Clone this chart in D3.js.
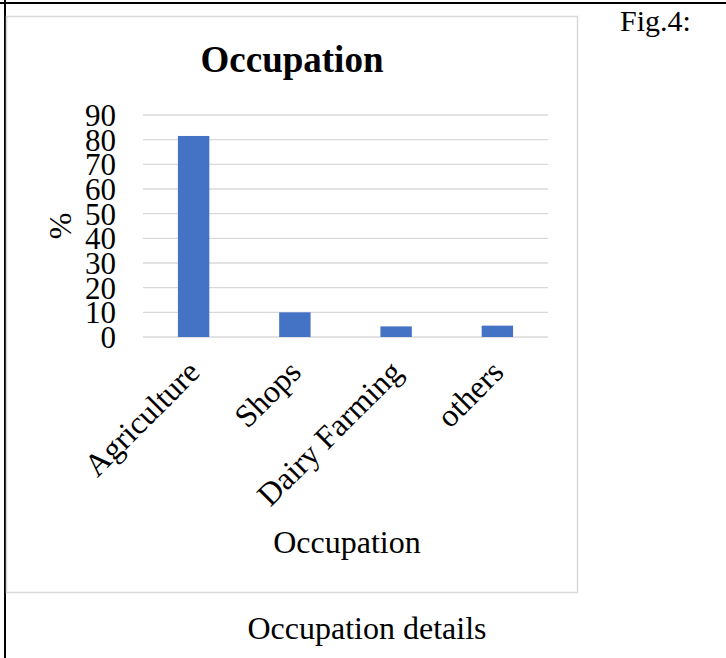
<!DOCTYPE html>
<html>
<head>
<meta charset="utf-8">
<script src="https://cdn.jsdelivr.net/npm/d3@7"></script>
<style>
  body { margin: 0; background: #fff; }
  text { font-family: "Liberation Serif", "Times New Roman", serif; fill: #000; }
</style>
</head>
<body>
<div id="chart"></div>
<script>
// chart data
var categories = ["Agriculture", "Shops", "Dairy Farming", "others"];
var percents = [81.5, 10, 4.3, 4.6];
var yTicks = [0, 10, 20, 30, 40, 50, 60, 70, 80, 90];

var svgWidth = 726;
var svgHeight = 658;

// plot area inside the chart frame
var plot = { left: 143, right: 548, top: 115, bottom: 337 };

var svg = d3.select("#chart")
  .append("svg")
  .attr("width", svgWidth)
  .attr("height", svgHeight);

// document table lines
svg.append("line")
  .attr("x1", 0).attr("x2", svgWidth)
  .attr("y1", 3).attr("y2", 3)
  .attr("stroke", "#000").attr("stroke-width", 2);
svg.append("line")
  .attr("x1", 5).attr("x2", 5)
  .attr("y1", 0).attr("y2", svgHeight)
  .attr("stroke", "#000").attr("stroke-width", 2);

// chart frame
svg.append("rect")
  .attr("x", 6.5).attr("y", 16.5)
  .attr("width", 571).attr("height", 576)
  .attr("fill", "#fff")
  .attr("stroke", "#d9d9d9")
  .attr("stroke-width", 1.5);

var x = d3.scaleBand()
  .domain(categories)
  .range([plot.left, plot.right])
  .paddingInner(0.69)
  .paddingOuter(0.345);

var y = d3.scaleLinear()
  .domain([0, 90])
  .range([plot.bottom, plot.top]);

// gridlines
svg.append("g")
  .selectAll("line")
  .data(yTicks)
  .enter()
  .append("line")
  .attr("x1", plot.left)
  .attr("x2", plot.right)
  .attr("y1", d => y(d))
  .attr("y2", d => y(d))
  .attr("stroke", "#d9d9d9")
  .attr("stroke-width", 1.4);

// y axis labels
var leftAxis = d3.axisLeft(y).tickValues(yTicks).tickSize(0).tickPadding(0);
var yAxis = svg.append("g")
  .attr("transform", `translate(${plot.left - 27}, 0)`)
  .call(leftAxis);
yAxis.select(".domain").remove();
yAxis.selectAll("text")
  .attr("font-size", 31)
  .attr("font-family", "Liberation Serif")
  .attr("dy", "0.34em");

// bars
svg.append("g")
  .selectAll("rect")
  .data(percents)
  .enter()
  .append("rect")
  .attr("x", (d, i) => x(categories[i]))
  .attr("y", d => y(d))
  .attr("width", x.bandwidth())
  .attr("height", d => y(0) - y(d))
  .attr("fill", "#4472c4");

// x axis labels (rotated)
svg.append("g")
  .selectAll("text")
  .data(categories)
  .enter()
  .append("text")
  .attr("transform", d => `translate(${x(d) + x.bandwidth() / 2 + 8}, ${plot.bottom + 37}) rotate(-45)`)
  .attr("text-anchor", "end")
  .attr("font-size", 32)
  .text(d => d);

// titles
svg.append("text")
  .attr("x", 292)
  .attr("y", 72)
  .attr("text-anchor", "middle")
  .attr("font-size", 37)
  .attr("font-weight", "bold")
  .text("Occupation");

svg.append("text")
  .attr("x", 347)
  .attr("y", 553)
  .attr("text-anchor", "middle")
  .attr("font-size", 32)
  .text("Occupation");

svg.append("text")
  .attr("transform", "translate(71, 226) rotate(-90)")
  .attr("text-anchor", "middle")
  .attr("font-size", 32)
  .text("%");

svg.append("text")
  .attr("x", 620)
  .attr("y", 31)
  .attr("font-size", 30)
  .text("Fig.4:");

svg.append("text")
  .attr("x", 367)
  .attr("y", 639)
  .attr("text-anchor", "middle")
  .attr("font-size", 32)
  .text("Occupation details");
</script>
</body>
</html>
